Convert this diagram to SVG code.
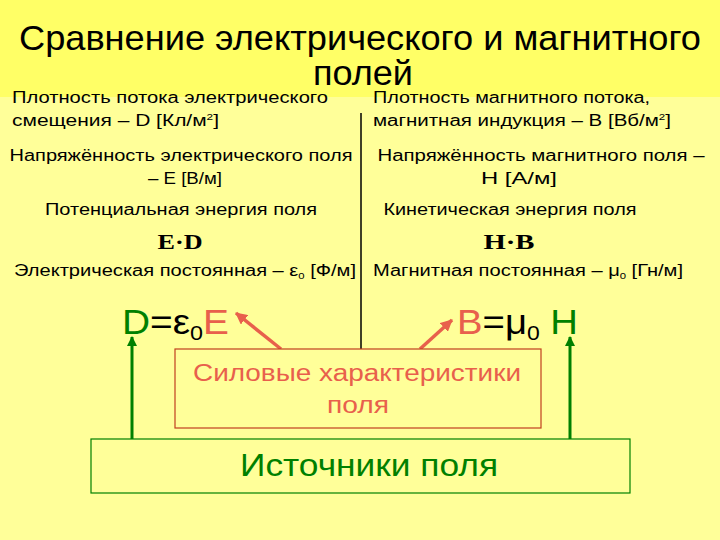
<svg xmlns="http://www.w3.org/2000/svg" width="720" height="540" viewBox="0 0 720 540">
<defs>
<style>
.t{font-family:"Liberation Sans",Arial,sans-serif;font-size:16px;fill:#000}
.title{font-family:"Liberation Sans",Arial,sans-serif;font-size:35px;fill:#000}
.f{font-family:"Liberation Serif","Times New Roman",serif;font-weight:bold;font-size:22px;fill:#000}
.big{font-family:"Liberation Sans",Arial,sans-serif;font-size:35px}
.box{font-family:"Liberation Sans",Arial,sans-serif}
</style>
<marker id="ag" markerWidth="10" markerHeight="10" refX="9" refY="5" orient="auto" markerUnits="userSpaceOnUse"><path d="M0,0 L10,5 L0,10 z" fill="#008000"/></marker>
<marker id="ar" markerWidth="12" markerHeight="12" refX="11" refY="6" orient="auto" markerUnits="userSpaceOnUse"><path d="M0,0 L12,6 L0,12 z" fill="#E8604C"/></marker>
</defs>
<rect x="0" y="0" width="720" height="540" fill="#FFFF99"/>
<rect x="0" y="0" width="720" height="97" fill="#FFFF66"/>
<text class="title" x="360" y="50" text-anchor="middle" textLength="682" lengthAdjust="spacingAndGlyphs">Сравнение электрического и магнитного</text>
<text class="title" x="363" y="85" text-anchor="middle" textLength="100" lengthAdjust="spacingAndGlyphs">полей</text>
<g id="left-text">
<text class="t" x="12" y="103" textLength="316" lengthAdjust="spacingAndGlyphs">Плотность потока электрического</text>
<text class="t" x="12" y="126" textLength="207" lengthAdjust="spacingAndGlyphs">смещения – D [Кл/м<tspan font-size="9" dy="-6">2</tspan><tspan dy="6">]</tspan></text>
<text class="t" x="181" y="161" text-anchor="middle" textLength="343" lengthAdjust="spacingAndGlyphs">Напряжённость электрического поля</text>
<text class="t" x="185" y="184" text-anchor="middle" textLength="74" lengthAdjust="spacingAndGlyphs">– E [В/м]</text>
<text class="t" x="181" y="215" text-anchor="middle" textLength="272" lengthAdjust="spacingAndGlyphs">Потенциальная энергия поля</text>
<text class="f" x="180" y="249" text-anchor="middle" textLength="45" lengthAdjust="spacingAndGlyphs">E·D</text>
<text class="t" x="14" y="276" textLength="342" lengthAdjust="spacingAndGlyphs">Электрическая постоянная – ε<tspan font-size="9" dy="3">0</tspan><tspan dy="-3"> [Ф/м]</tspan></text>
</g>
<g id="right-text">
<text class="t" x="373" y="103" textLength="277" lengthAdjust="spacingAndGlyphs">Плотность магнитного потока,</text>
<text class="t" x="373" y="126" textLength="298" lengthAdjust="spacingAndGlyphs">магнитная индукция  – B [Вб/м<tspan font-size="9" dy="-6">2</tspan><tspan dy="6">]</tspan></text>
<text class="t" x="541" y="161" text-anchor="middle" textLength="327" lengthAdjust="spacingAndGlyphs">Напряжённость магнитного  поля –</text>
<text class="t" x="519" y="184" text-anchor="middle" textLength="76" lengthAdjust="spacingAndGlyphs">H [А/м]</text>
<text class="t" x="510" y="215" text-anchor="middle" textLength="253" lengthAdjust="spacingAndGlyphs">Кинетическая энергия поля</text>
<text class="f" x="509" y="249" text-anchor="middle" textLength="51" lengthAdjust="spacingAndGlyphs">H·B</text>
<text class="t" x="373" y="276" textLength="310" lengthAdjust="spacingAndGlyphs">Магнитная постоянная – μ<tspan font-size="9" dy="3">0</tspan><tspan dy="-3"> [Гн/м]</tspan></text>
</g>
<g id="formula-D">
<text class="big" x="122" y="334" textLength="107" lengthAdjust="spacingAndGlyphs"><tspan fill="#008000">D</tspan><tspan fill="#000">=ε</tspan><tspan fill="#000" font-size="21" dy="6">0</tspan><tspan fill="#E8604C" dy="-6">E</tspan></text>
</g>
<g id="formula-B">
<text class="big" x="457" y="334" textLength="121" lengthAdjust="spacingAndGlyphs"><tspan fill="#E8604C">B</tspan><tspan fill="#000">=μ</tspan><tspan fill="#000" font-size="21" dy="6">0</tspan><tspan fill="#008000" dy="-6"> H</tspan></text>
</g>
<g id="connectors">
<line x1="361" y1="113" x2="361" y2="349" stroke="#000" stroke-width="1.5"/>
<line x1="132" y1="439" x2="132" y2="337" stroke="#008000" stroke-width="3" marker-end="url(#ag)"/>
<line x1="570" y1="439" x2="570" y2="337" stroke="#008000" stroke-width="3" marker-end="url(#ag)"/>
<line x1="281" y1="349" x2="236" y2="313" stroke="#E8604C" stroke-width="3.5" marker-end="url(#ar)"/>
<line x1="420" y1="349" x2="452" y2="320" stroke="#E8604C" stroke-width="3.5" marker-end="url(#ar)"/>
</g>
<g id="force-box">
<rect x="175" y="349" width="366" height="79" fill="#FFFF99" stroke="#C04020" stroke-width="1.2"/>
<text class="box" x="357" y="381" text-anchor="middle" font-size="23" fill="#E8604C" textLength="328" lengthAdjust="spacingAndGlyphs">Силовые характеристики</text>
<text class="box" x="358" y="413" text-anchor="middle" font-size="23" fill="#E8604C" textLength="62" lengthAdjust="spacingAndGlyphs">поля</text>
</g>
<g id="sources-box">
<rect x="91" y="439" width="539" height="54" fill="#FFFF99" stroke="#008000" stroke-width="1.2"/>
<text class="box" x="369" y="476" text-anchor="middle" font-size="32" fill="#008000" textLength="258" lengthAdjust="spacingAndGlyphs">Источники поля</text>
</g>
</svg>
